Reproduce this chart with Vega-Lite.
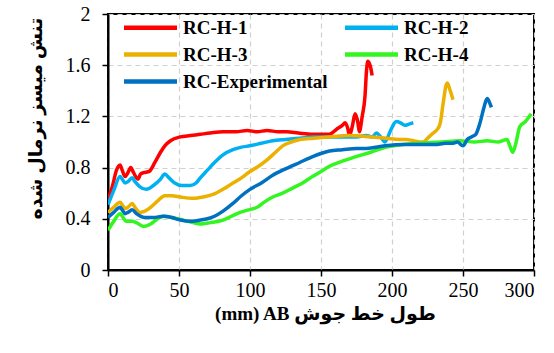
{
  "$schema": "https://vega.github.io/schema/vega-lite/v6.json",
  "width": 426,
  "height": 256,
  "autosize": {"type": "none"},
  "padding": {"left": 108, "top": 14, "right": 20, "bottom": 83},
  "background": "white",
  "config": {
    "view": {"stroke": "black", "strokeWidth": 2},
    "axis": {
      "labelFont": "Liberation Serif",
      "labelFontSize": 20,
      "labelColor": "black",
      "domainColor": "black",
      "domainWidth": 2,
      "tickColor": "black",
      "tickWidth": 1.5,
      "tickSize": 6,
      "gridColor": "#d0d0d0",
      "gridDash": [5, 4],
      "gridWidth": 1.2,
      "titleFont": "Liberation Serif, DejaVu Sans",
      "titleFontWeight": "bold",
      "titleFontSize": 19,
      "titleColor": "black"
    }
  },
  "data": {
    "values": [
      {"s": "RC-H-1", "x": 0, "y": 0.55}, {"s": "RC-H-1", "x": 3, "y": 0.65}, {"s": "RC-H-1", "x": 6, "y": 0.78}, {"s": "RC-H-1", "x": 8.5, "y": 0.82}, {"s": "RC-H-1", "x": 10, "y": 0.78}, {"s": "RC-H-1", "x": 12, "y": 0.73}, {"s": "RC-H-1", "x": 14, "y": 0.76}, {"s": "RC-H-1", "x": 16, "y": 0.8}, {"s": "RC-H-1", "x": 18, "y": 0.76}, {"s": "RC-H-1", "x": 21, "y": 0.71}, {"s": "RC-H-1", "x": 23, "y": 0.75}, {"s": "RC-H-1", "x": 25, "y": 0.76}, {"s": "RC-H-1", "x": 29, "y": 0.77}, {"s": "RC-H-1", "x": 33, "y": 0.84}, {"s": "RC-H-1", "x": 37, "y": 0.92}, {"s": "RC-H-1", "x": 40, "y": 0.97}, {"s": "RC-H-1", "x": 44, "y": 1.01}, {"s": "RC-H-1", "x": 51, "y": 1.04}, {"s": "RC-H-1", "x": 58, "y": 1.05}, {"s": "RC-H-1", "x": 65, "y": 1.06}, {"s": "RC-H-1", "x": 72, "y": 1.07}, {"s": "RC-H-1", "x": 81, "y": 1.08}, {"s": "RC-H-1", "x": 90, "y": 1.08}, {"s": "RC-H-1", "x": 98, "y": 1.09}, {"s": "RC-H-1", "x": 105, "y": 1.08}, {"s": "RC-H-1", "x": 112, "y": 1.09}, {"s": "RC-H-1", "x": 120, "y": 1.08}, {"s": "RC-H-1", "x": 126, "y": 1.08}, {"s": "RC-H-1", "x": 134, "y": 1.07}, {"s": "RC-H-1", "x": 144, "y": 1.06}, {"s": "RC-H-1", "x": 150, "y": 1.06}, {"s": "RC-H-1", "x": 156, "y": 1.06}, {"s": "RC-H-1", "x": 161, "y": 1.1}, {"s": "RC-H-1", "x": 165, "y": 1.13}, {"s": "RC-H-1", "x": 167, "y": 1.15}, {"s": "RC-H-1", "x": 169, "y": 1.1}, {"s": "RC-H-1", "x": 170, "y": 1.05}, {"s": "RC-H-1", "x": 172, "y": 1.12}, {"s": "RC-H-1", "x": 174, "y": 1.22}, {"s": "RC-H-1", "x": 176, "y": 1.15}, {"s": "RC-H-1", "x": 177, "y": 1.08}, {"s": "RC-H-1", "x": 179, "y": 1.2}, {"s": "RC-H-1", "x": 181, "y": 1.36}, {"s": "RC-H-1", "x": 182, "y": 1.55}, {"s": "RC-H-1", "x": 183, "y": 1.63}, {"s": "RC-H-1", "x": 185, "y": 1.58}, {"s": "RC-H-1", "x": 186, "y": 1.52},

      {"s": "RC-H-2", "x": 0, "y": 0.51}, {"s": "RC-H-2", "x": 4, "y": 0.62}, {"s": "RC-H-2", "x": 8.5, "y": 0.73}, {"s": "RC-H-2", "x": 10, "y": 0.71}, {"s": "RC-H-2", "x": 12, "y": 0.68}, {"s": "RC-H-2", "x": 14, "y": 0.69}, {"s": "RC-H-2", "x": 17, "y": 0.72}, {"s": "RC-H-2", "x": 19, "y": 0.69}, {"s": "RC-H-2", "x": 22.5, "y": 0.65}, {"s": "RC-H-2", "x": 27, "y": 0.63}, {"s": "RC-H-2", "x": 32, "y": 0.66}, {"s": "RC-H-2", "x": 37, "y": 0.71}, {"s": "RC-H-2", "x": 40, "y": 0.75}, {"s": "RC-H-2", "x": 43, "y": 0.72}, {"s": "RC-H-2", "x": 47, "y": 0.68}, {"s": "RC-H-2", "x": 52, "y": 0.66}, {"s": "RC-H-2", "x": 58, "y": 0.66}, {"s": "RC-H-2", "x": 62, "y": 0.68}, {"s": "RC-H-2", "x": 65, "y": 0.72}, {"s": "RC-H-2", "x": 70, "y": 0.78}, {"s": "RC-H-2", "x": 75, "y": 0.84}, {"s": "RC-H-2", "x": 81, "y": 0.9}, {"s": "RC-H-2", "x": 88, "y": 0.94}, {"s": "RC-H-2", "x": 94, "y": 0.96}, {"s": "RC-H-2", "x": 100, "y": 0.97}, {"s": "RC-H-2", "x": 108, "y": 0.99}, {"s": "RC-H-2", "x": 116, "y": 1.01}, {"s": "RC-H-2", "x": 125, "y": 1.02}, {"s": "RC-H-2", "x": 135, "y": 1.03}, {"s": "RC-H-2", "x": 145, "y": 1.04}, {"s": "RC-H-2", "x": 156, "y": 1.04}, {"s": "RC-H-2", "x": 165, "y": 1.04}, {"s": "RC-H-2", "x": 175, "y": 1.04}, {"s": "RC-H-2", "x": 182, "y": 1.05}, {"s": "RC-H-2", "x": 186, "y": 1.04}, {"s": "RC-H-2", "x": 189, "y": 1.07}, {"s": "RC-H-2", "x": 192, "y": 1.04}, {"s": "RC-H-2", "x": 195, "y": 1.0}, {"s": "RC-H-2", "x": 199, "y": 1.09}, {"s": "RC-H-2", "x": 203, "y": 1.16}, {"s": "RC-H-2", "x": 206, "y": 1.15}, {"s": "RC-H-2", "x": 209, "y": 1.13}, {"s": "RC-H-2", "x": 212, "y": 1.14}, {"s": "RC-H-2", "x": 215, "y": 1.15},

      {"s": "RC-H-3", "x": 0, "y": 0.45}, {"s": "RC-H-3", "x": 4, "y": 0.49}, {"s": "RC-H-3", "x": 8.5, "y": 0.53}, {"s": "RC-H-3", "x": 10, "y": 0.51}, {"s": "RC-H-3", "x": 12, "y": 0.48}, {"s": "RC-H-3", "x": 14, "y": 0.49}, {"s": "RC-H-3", "x": 17, "y": 0.52}, {"s": "RC-H-3", "x": 19, "y": 0.49}, {"s": "RC-H-3", "x": 22.5, "y": 0.45}, {"s": "RC-H-3", "x": 26, "y": 0.46}, {"s": "RC-H-3", "x": 30, "y": 0.49}, {"s": "RC-H-3", "x": 35, "y": 0.54}, {"s": "RC-H-3", "x": 40, "y": 0.58}, {"s": "RC-H-3", "x": 45, "y": 0.58}, {"s": "RC-H-3", "x": 51, "y": 0.57}, {"s": "RC-H-3", "x": 60, "y": 0.56}, {"s": "RC-H-3", "x": 67, "y": 0.57}, {"s": "RC-H-3", "x": 74, "y": 0.59}, {"s": "RC-H-3", "x": 81, "y": 0.63}, {"s": "RC-H-3", "x": 88, "y": 0.68}, {"s": "RC-H-3", "x": 94, "y": 0.72}, {"s": "RC-H-3", "x": 100, "y": 0.77}, {"s": "RC-H-3", "x": 106, "y": 0.81}, {"s": "RC-H-3", "x": 112, "y": 0.86}, {"s": "RC-H-3", "x": 118, "y": 0.92}, {"s": "RC-H-3", "x": 123, "y": 0.97}, {"s": "RC-H-3", "x": 129, "y": 1.0}, {"s": "RC-H-3", "x": 135, "y": 1.02}, {"s": "RC-H-3", "x": 145, "y": 1.03}, {"s": "RC-H-3", "x": 156, "y": 1.04}, {"s": "RC-H-3", "x": 170, "y": 1.05}, {"s": "RC-H-3", "x": 185, "y": 1.04}, {"s": "RC-H-3", "x": 196, "y": 1.03}, {"s": "RC-H-3", "x": 205, "y": 1.02}, {"s": "RC-H-3", "x": 210, "y": 1.02}, {"s": "RC-H-3", "x": 215, "y": 1.01}, {"s": "RC-H-3", "x": 222, "y": 1.0}, {"s": "RC-H-3", "x": 226, "y": 1.04}, {"s": "RC-H-3", "x": 229, "y": 1.07}, {"s": "RC-H-3", "x": 232, "y": 1.1}, {"s": "RC-H-3", "x": 234, "y": 1.15}, {"s": "RC-H-3", "x": 236, "y": 1.3}, {"s": "RC-H-3", "x": 238, "y": 1.44}, {"s": "RC-H-3", "x": 239, "y": 1.46}, {"s": "RC-H-3", "x": 241, "y": 1.4}, {"s": "RC-H-3", "x": 243, "y": 1.33},

      {"s": "RC-H-4", "x": 0, "y": 0.31}, {"s": "RC-H-4", "x": 4, "y": 0.38}, {"s": "RC-H-4", "x": 8.5, "y": 0.44}, {"s": "RC-H-4", "x": 10, "y": 0.42}, {"s": "RC-H-4", "x": 13, "y": 0.38}, {"s": "RC-H-4", "x": 17, "y": 0.38}, {"s": "RC-H-4", "x": 20, "y": 0.37}, {"s": "RC-H-4", "x": 25, "y": 0.34}, {"s": "RC-H-4", "x": 30, "y": 0.36}, {"s": "RC-H-4", "x": 35, "y": 0.4}, {"s": "RC-H-4", "x": 39, "y": 0.42}, {"s": "RC-H-4", "x": 45, "y": 0.41}, {"s": "RC-H-4", "x": 53, "y": 0.39}, {"s": "RC-H-4", "x": 60, "y": 0.37}, {"s": "RC-H-4", "x": 65, "y": 0.36}, {"s": "RC-H-4", "x": 72, "y": 0.37}, {"s": "RC-H-4", "x": 81, "y": 0.39}, {"s": "RC-H-4", "x": 87, "y": 0.42}, {"s": "RC-H-4", "x": 93, "y": 0.45}, {"s": "RC-H-4", "x": 99, "y": 0.47}, {"s": "RC-H-4", "x": 105, "y": 0.49}, {"s": "RC-H-4", "x": 110, "y": 0.53}, {"s": "RC-H-4", "x": 116, "y": 0.57}, {"s": "RC-H-4", "x": 123, "y": 0.6}, {"s": "RC-H-4", "x": 130, "y": 0.64}, {"s": "RC-H-4", "x": 137, "y": 0.68}, {"s": "RC-H-4", "x": 144, "y": 0.73}, {"s": "RC-H-4", "x": 150, "y": 0.77}, {"s": "RC-H-4", "x": 156, "y": 0.81}, {"s": "RC-H-4", "x": 165, "y": 0.85}, {"s": "RC-H-4", "x": 173, "y": 0.88}, {"s": "RC-H-4", "x": 185, "y": 0.92}, {"s": "RC-H-4", "x": 196, "y": 0.96}, {"s": "RC-H-4", "x": 208, "y": 0.98}, {"s": "RC-H-4", "x": 220, "y": 0.99}, {"s": "RC-H-4", "x": 235, "y": 1.0}, {"s": "RC-H-4", "x": 248, "y": 1.01}, {"s": "RC-H-4", "x": 258, "y": 1.0}, {"s": "RC-H-4", "x": 267, "y": 1.01}, {"s": "RC-H-4", "x": 275, "y": 1.0}, {"s": "RC-H-4", "x": 281, "y": 1.02}, {"s": "RC-H-4", "x": 283, "y": 0.97}, {"s": "RC-H-4", "x": 285, "y": 0.92}, {"s": "RC-H-4", "x": 287, "y": 0.98}, {"s": "RC-H-4", "x": 290, "y": 1.12}, {"s": "RC-H-4", "x": 294, "y": 1.16}, {"s": "RC-H-4", "x": 298, "y": 1.22},

      {"s": "RC-Experimental", "x": 0, "y": 0.41}, {"s": "RC-Experimental", "x": 4, "y": 0.45}, {"s": "RC-Experimental", "x": 8.5, "y": 0.49}, {"s": "RC-Experimental", "x": 10, "y": 0.47}, {"s": "RC-Experimental", "x": 12, "y": 0.44}, {"s": "RC-Experimental", "x": 14, "y": 0.45}, {"s": "RC-Experimental", "x": 17, "y": 0.47}, {"s": "RC-Experimental", "x": 20, "y": 0.44}, {"s": "RC-Experimental", "x": 26, "y": 0.41}, {"s": "RC-Experimental", "x": 32, "y": 0.41}, {"s": "RC-Experimental", "x": 39, "y": 0.42}, {"s": "RC-Experimental", "x": 45, "y": 0.41}, {"s": "RC-Experimental", "x": 51, "y": 0.39}, {"s": "RC-Experimental", "x": 58, "y": 0.38}, {"s": "RC-Experimental", "x": 65, "y": 0.39}, {"s": "RC-Experimental", "x": 70, "y": 0.4}, {"s": "RC-Experimental", "x": 75, "y": 0.42}, {"s": "RC-Experimental", "x": 81, "y": 0.46}, {"s": "RC-Experimental", "x": 88, "y": 0.52}, {"s": "RC-Experimental", "x": 94, "y": 0.58}, {"s": "RC-Experimental", "x": 100, "y": 0.63}, {"s": "RC-Experimental", "x": 108, "y": 0.68}, {"s": "RC-Experimental", "x": 116, "y": 0.74}, {"s": "RC-Experimental", "x": 125, "y": 0.79}, {"s": "RC-Experimental", "x": 135, "y": 0.84}, {"s": "RC-Experimental", "x": 145, "y": 0.89}, {"s": "RC-Experimental", "x": 150, "y": 0.91}, {"s": "RC-Experimental", "x": 156, "y": 0.93}, {"s": "RC-Experimental", "x": 165, "y": 0.94}, {"s": "RC-Experimental", "x": 175, "y": 0.95}, {"s": "RC-Experimental", "x": 182, "y": 0.95}, {"s": "RC-Experimental", "x": 195, "y": 0.97}, {"s": "RC-Experimental", "x": 208, "y": 0.98}, {"s": "RC-Experimental", "x": 220, "y": 0.98}, {"s": "RC-Experimental", "x": 230, "y": 0.98}, {"s": "RC-Experimental", "x": 238, "y": 0.99}, {"s": "RC-Experimental", "x": 243, "y": 0.99}, {"s": "RC-Experimental", "x": 246, "y": 1.0}, {"s": "RC-Experimental", "x": 250, "y": 0.97}, {"s": "RC-Experimental", "x": 253, "y": 1.02}, {"s": "RC-Experimental", "x": 256, "y": 1.04}, {"s": "RC-Experimental", "x": 259, "y": 1.06}, {"s": "RC-Experimental", "x": 262, "y": 1.15}, {"s": "RC-Experimental", "x": 265, "y": 1.28}, {"s": "RC-Experimental", "x": 267, "y": 1.34}, {"s": "RC-Experimental", "x": 269, "y": 1.3}, {"s": "RC-Experimental", "x": 270, "y": 1.27}
    ]
  },
  "mark": {"type": "line", "strokeWidth": 3.5, "interpolate": "monotone", "clip": true},
  "encoding": {
    "x": {
      "field": "x", "type": "quantitative",
      "scale": {"domain": [0, 300], "nice": false},
      "axis": {
        "values": [0, 50, 100, 150, 200, 250, 300],
        "labelPadding": 4,
        "title": "(mm) AB  طول خط جوش",
        "titleBaseline": "top",
        "titleX": 217,
        "titleY": 34
      }
    },
    "y": {
      "field": "y", "type": "quantitative",
      "scale": {"domain": [0, 2], "nice": false},
      "axis": {
        "values": [0, 0.4, 0.8, 1.2, 1.6, 2],
        "format": "~g",
        "labelPadding": 12,
        "title": "تنش میسز نرمال شده",
        "titleX": -63,
        "titleY": 104
      }
    },
    "color": {
      "field": "s", "type": "nominal",
      "scale": {
        "domain": ["RC-H-1", "RC-H-3", "RC-Experimental", "RC-H-2", "RC-H-4"],
        "range": ["#FF0000", "#EBB000", "#0070C0", "#00B0F0", "#33F51F"]
      },
      "legend": {
        "title": null,
        "orient": "none",
        "legendX": 33,
        "legendY": 4,
        "columns": 2,
        "columnPadding": 8,
        "rowPadding": 7,
        "symbolType": "M-5.3,0H5.3",
        "symbolSize": 100,
        "symbolStrokeWidth": 4.5,
        "symbolFillColor": "transparent",
        "labelFont": "Liberation Serif",
        "labelFontWeight": "bold",
        "labelFontSize": 19,
        "labelColor": "black",
        "labelOffset": 23,
        "labelLimit": 300
      }
    }
  }
}
